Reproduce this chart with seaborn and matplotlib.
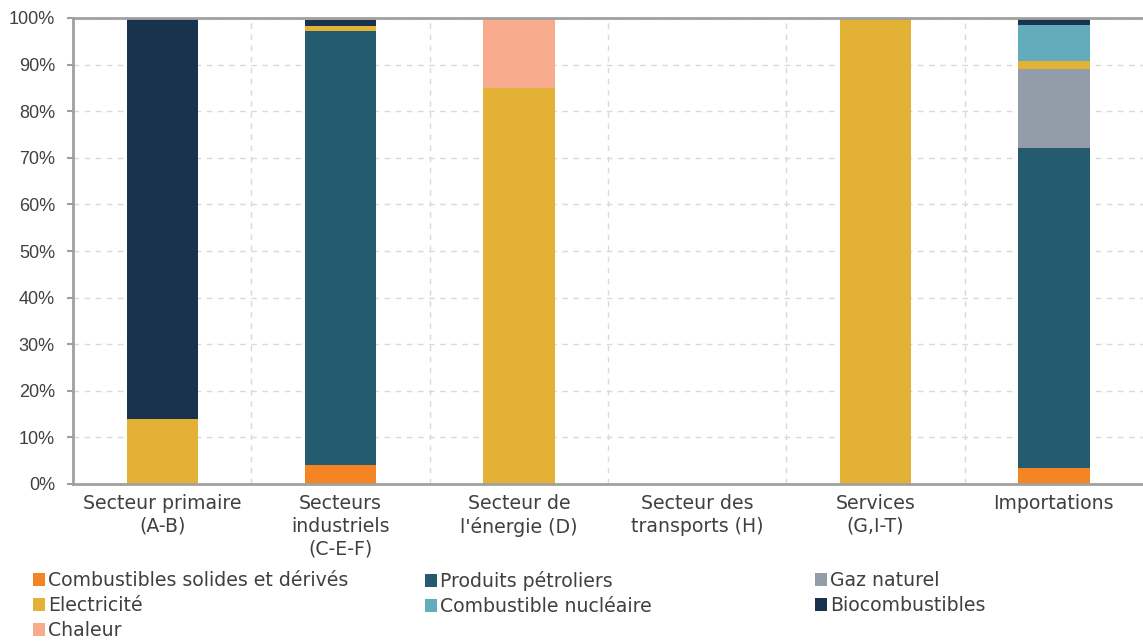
import matplotlib
matplotlib.use("Agg")
import matplotlib.pyplot as plt
from matplotlib.patches import Patch
import numpy as np
import pandas as pd
import seaborn as sns

categories = ["Secteur primaire\n(A-B)", "Secteurs\nindustriels\n(C-E-F)", "Secteur de\nl'énergie (D)",
              "Secteur des\ntransports (H)", "Services\n(G,I-T)", "Importations"]
series_names = ["Combustibles solides et dérivés", "Produits pétroliers", "Gaz naturel",
                "Electricité", "Combustible nucléaire", "Biocombustibles", "Chaleur"]
solides = [0.0, 4.0, 0.0, 0.0, 0.0, 3.4]
petroliers = [0.0, 93.3, 0.0, 0.0, 0.0, 68.8]
gaz = [0.0, 0.0, 0.0, 0.0, 0.0, 16.8]
electricite = [14.0, 1.0, 85.0, 0.0, 100.0, 1.8]
nucleaire = [0.0, 0.0, 0.0, 0.0, 0.0, 7.8]
biocomb = [86.0, 1.3, 0.0, 0.0, 0.0, 1.3]
chaleur = [0.0, 0.4, 15.0, 0.0, 0.0, 0.1]
series_values = [solides, petroliers, gaz, electricite, nucleaire, biocomb, chaleur]
colors = ["#F58424", "#255B6E", "#939DA9", "#E2B135", "#62ACBB", "#19334F", "#F8AC8D"]
ytick_labels = [f"{v}%" for v in range(0, 101, 10)]

sns.set_theme(style="white")
plt.rcParams["font.family"] = ["DejaVu Sans"]

fig = plt.figure(figsize=(11.43, 6.42), dpi=100)
ax = fig.add_axes([73 / 1143, 1 - 484 / 642, (1143 - 73) / 1143, (484 - 18) / 642])

bottom = np.zeros(len(categories))
for name, vals, col in zip(series_names, series_values, colors):
    df = pd.DataFrame({"cat": categories, "val": vals})
    sns.barplot(data=df, x="cat", y="val", order=categories, color=col, width=0.4,
                bottom=bottom.copy(), ax=ax, saturation=1, errorbar=None, zorder=2,
                linewidth=0)
    bottom += np.array(vals)

ax.set_xlim(-0.5, len(categories) - 0.5)
ax.set_ylim(0, 100)
ax.set_yticks(range(0, 101, 10))
ax.set_yticklabels(ytick_labels, fontsize=13, color="#404040", family=["Liberation Sans"])
ax.set_xticks(range(len(categories)))
ax.set_xticklabels(categories, fontsize=13.6, color="#404040", linespacing=1.27)
ax.set_xlabel("")
ax.set_ylabel("")

# gridlines
for y in range(10, 101, 10):
    ax.axhline(y, color="#D9D9D9", linestyle=(0, (4, 4)), linewidth=1, zorder=1)
for x in np.arange(0.5, len(categories) - 0.5, 1):
    ax.axvline(x, color="#D9D9D9", linestyle=(0, (4, 4)), linewidth=1, zorder=1)

ax.spines["right"].set_visible(False)
for s in ["left", "bottom", "top"]:
    ax.spines[s].set_color("#A0A0A0")
    ax.spines[s].set_linewidth(2)
    ax.spines[s].set_zorder(3)

ax.tick_params(axis="x", which="major", length=0, pad=7)
ax.set_xticks(np.arange(-0.5, len(categories), 1), minor=True)
ax.tick_params(axis="x", which="minor", length=4, width=1.5, color="#A0A0A0", direction="out")
ax.tick_params(axis="y", length=4, width=1.5, color="#A0A0A0", direction="out", pad=9, left=True)

handles = [Patch(facecolor=c, edgecolor="none") for c in colors]
columns = [([0, 3, 6], 33), ([1, 4], 425), ([2, 5], 815)]
for idx, xpos in columns:
    leg = fig.legend([handles[i] for i in idx], [series_names[i] for i in idx],
                     loc="upper left", bbox_to_anchor=(xpos / 1143, 1 - 571 / 642), ncol=1,
                     frameon=False, fontsize=13.6, handlelength=0.65, handleheight=0.7,
                     handletextpad=0.15, labelspacing=0.33, borderpad=0,
                     borderaxespad=0)
    for t in leg.get_texts():
        t.set_color("#404040")

fig.savefig("out.png", dpi=100)
